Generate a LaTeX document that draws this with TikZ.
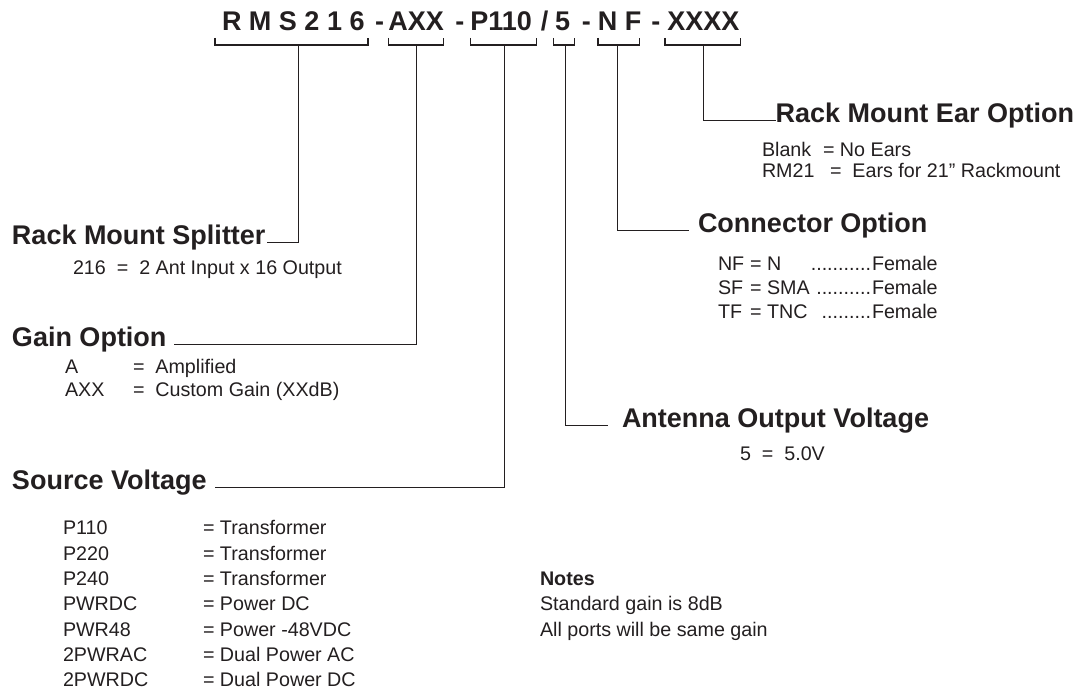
\documentclass[tikz,border=0pt]{standalone}
\usepackage{fontspec}
\setmainfont{Liberation Sans}
\definecolor{ink}{HTML}{231F20}
\begin{document}
\begin{tikzpicture}[x=1pt,y=-1pt,
  every node/.style={inner sep=0pt, outer sep=0pt, anchor=base west, text=ink},
  hdr/.style={font=\fontsize{27}{30}\selectfont\bfseries},
  head/.style={font=\fontsize{27}{30}\selectfont\bfseries},
  body/.style={font=\fontsize{19.7}{24}\selectfont},
  notehead/.style={font=\fontsize{19.7}{24}\selectfont\bfseries},
  wire/.style={draw=ink, line width=1.4pt},
]
\useasboundingbox (0,0) rectangle (1088,692);

% ---- header code ----
\node[hdr] (hRMS) at (222,31) {R M S 2 1 6};
\node[hdr] (hd1)  at (375,31) {-};
\node[hdr] (hAXX) at (388.4,31) {AXX};
\node[hdr] (hd2)  at (455.4,31) {-};
\node[hdr] (hP)   at (470.3,31) {P110};
\node[hdr] (hsl)  at (540.9,31) {/};
\node[hdr] (h5)   at (555.1,31) {5};
\node[hdr] (hd3)  at (581.9,31) {-};
\node[hdr] (hNF)  at (597.9,31) {N F};
\node[hdr] (hd4)  at (651.3,31) {-};
\node[hdr] (hX)   at (667.4,31) {XXXX};

% ---- brackets ----
\coordinate (b1l) at (214.9,38); \coordinate (b1r) at (368.1,38); \coordinate (s1) at (298.6,45);
\coordinate (b2l) at (388.4,38); \coordinate (b2r) at (443.6,38); \coordinate (s2) at (416.2,45);
\coordinate (b3l) at (470.3,38); \coordinate (b3r) at (536.6,38); \coordinate (s3) at (504.6,45);
\coordinate (b4l) at (553.4,38); \coordinate (b4r) at (574.7,38); \coordinate (s4) at (565.2,45);
\coordinate (b5l) at (597.9,38); \coordinate (b5r) at (639.6,38); \coordinate (s5) at (617.2,45);
\coordinate (b6l) at (664.9,38); \coordinate (b6r) at (740.4,38); \coordinate (s6) at (703.4,45);
\foreach \i in {1,...,6}{
  \draw[wire] (b\i l) |- (b\i r |- s\i) -- (b\i r);
}

% ---- headings ----
\node[head] (split) at (12,245) {Rack Mount Splitter};
\node[head] (gain)  at (12,347) {Gain Option};
\node[head] (src)   at (12,490) {Source Voltage};
\node[head] (ear)   at (775.5,123) {Rack Mount Ear Option};
\node[head] (conn)  at (698,233) {Connector Option};
\node[head] (ant)   at (622,428) {Antenna Output Voltage};

% ---- connectors ----
\draw[wire] (s1) |- ([xshift=1pt]split.mid east);
\draw[wire] (s2) |- ([xshift=8pt]gain.mid east);
\draw[wire] (s3) |- ([xshift=8pt]src.mid east);
\draw[wire] (s4) |- ([xshift=-14pt]ant.mid west);
\draw[wire] (s5) |- ([xshift=-9pt]conn.mid west);
\draw[wire] (s6) |- ([xshift=0pt]ear.mid west);

% ---- splitter ----
\node[body] (spl1) at (73,275) {216\ \ =\ \ 2 Ant Input x 16 Output};

% ---- gain ----
\node[body] (gA)  at (65,374) {A};
\node[body] (gAv) at (133,374) {=\ \ Amplified};
\node[body] (gX)  at (65,397) {AXX};
\node[body] (gXv) at (133,397) {=\ \ Custom Gain (XXdB)};

% ---- source voltage ----
\node[body] (v1)  at (63,535)   {P110};    \node[body] (v1v) at (203,535)   {= Transformer};
\node[body] (v2)  at (63,560.3) {P220};    \node[body] (v2v) at (203,560.3) {= Transformer};
\node[body] (v3)  at (63,585.6) {P240};    \node[body] (v3v) at (203,585.6) {= Transformer};
\node[body] (v4)  at (63,610.9) {PWRDC};   \node[body] (v4v) at (203,610.9) {= Power DC};
\node[body] (v5)  at (63,636.2) {PWR48};   \node[body] (v5v) at (203,636.2) {= Power -48VDC};
\node[body] (v6)  at (63,661.5) {2PWRAC};  \node[body] (v6v) at (203,661.5) {= Dual Power AC};
\node[body] (v7)  at (63,686.8) {2PWRDC};  \node[body] (v7v) at (203,686.8) {= Dual Power DC};

% ---- ear option ----
\node[body] (e1)  at (762,157) {Blank};
\node[body] (e1v) at (823,157) {= No Ears};
\node[body] (e2)  at (762,178) {RM21};
\node[body] (e2v) at (830,178) {=\ \ Ears for 21” Rackmount};

% ---- connector option ----
\node[body] (c1)  at (718,271) {NF};
\node[body] (c1e) at (750,271) {=};
\node[body] (c1v) at (767,271) {N};
\node[body] (c1f) at (872,271) {Female};
\node[body,anchor=base east] (c1d) at (871,271) {...........};
\node[body] (c2)  at (718,295) {SF};
\node[body] (c2e) at (750,295) {=};
\node[body] (c2v) at (767,295) {SMA};
\node[body] (c2f) at (872,295) {Female};
\node[body,anchor=base east] (c2d) at (871,295) {..........};
\node[body] (c3)  at (718,319) {TF};
\node[body] (c3e) at (750,319) {=};
\node[body] (c3v) at (767,319) {TNC};
\node[body] (c3f) at (872,319) {Female};
\node[body,anchor=base east] (c3d) at (871,319) {.........};

% ---- antenna output ----
\node[body] (a1) at (740,461) {5\ \ =\ \ 5.0V};

% ---- notes ----
\node[notehead] (nh) at (540,585.6) {Notes};
\node[body] (n1) at (540,610.9) {Standard gain is 8dB};
\node[body] (n2) at (540,636.2) {All ports will be same gain};
\end{tikzpicture}
\end{document}
